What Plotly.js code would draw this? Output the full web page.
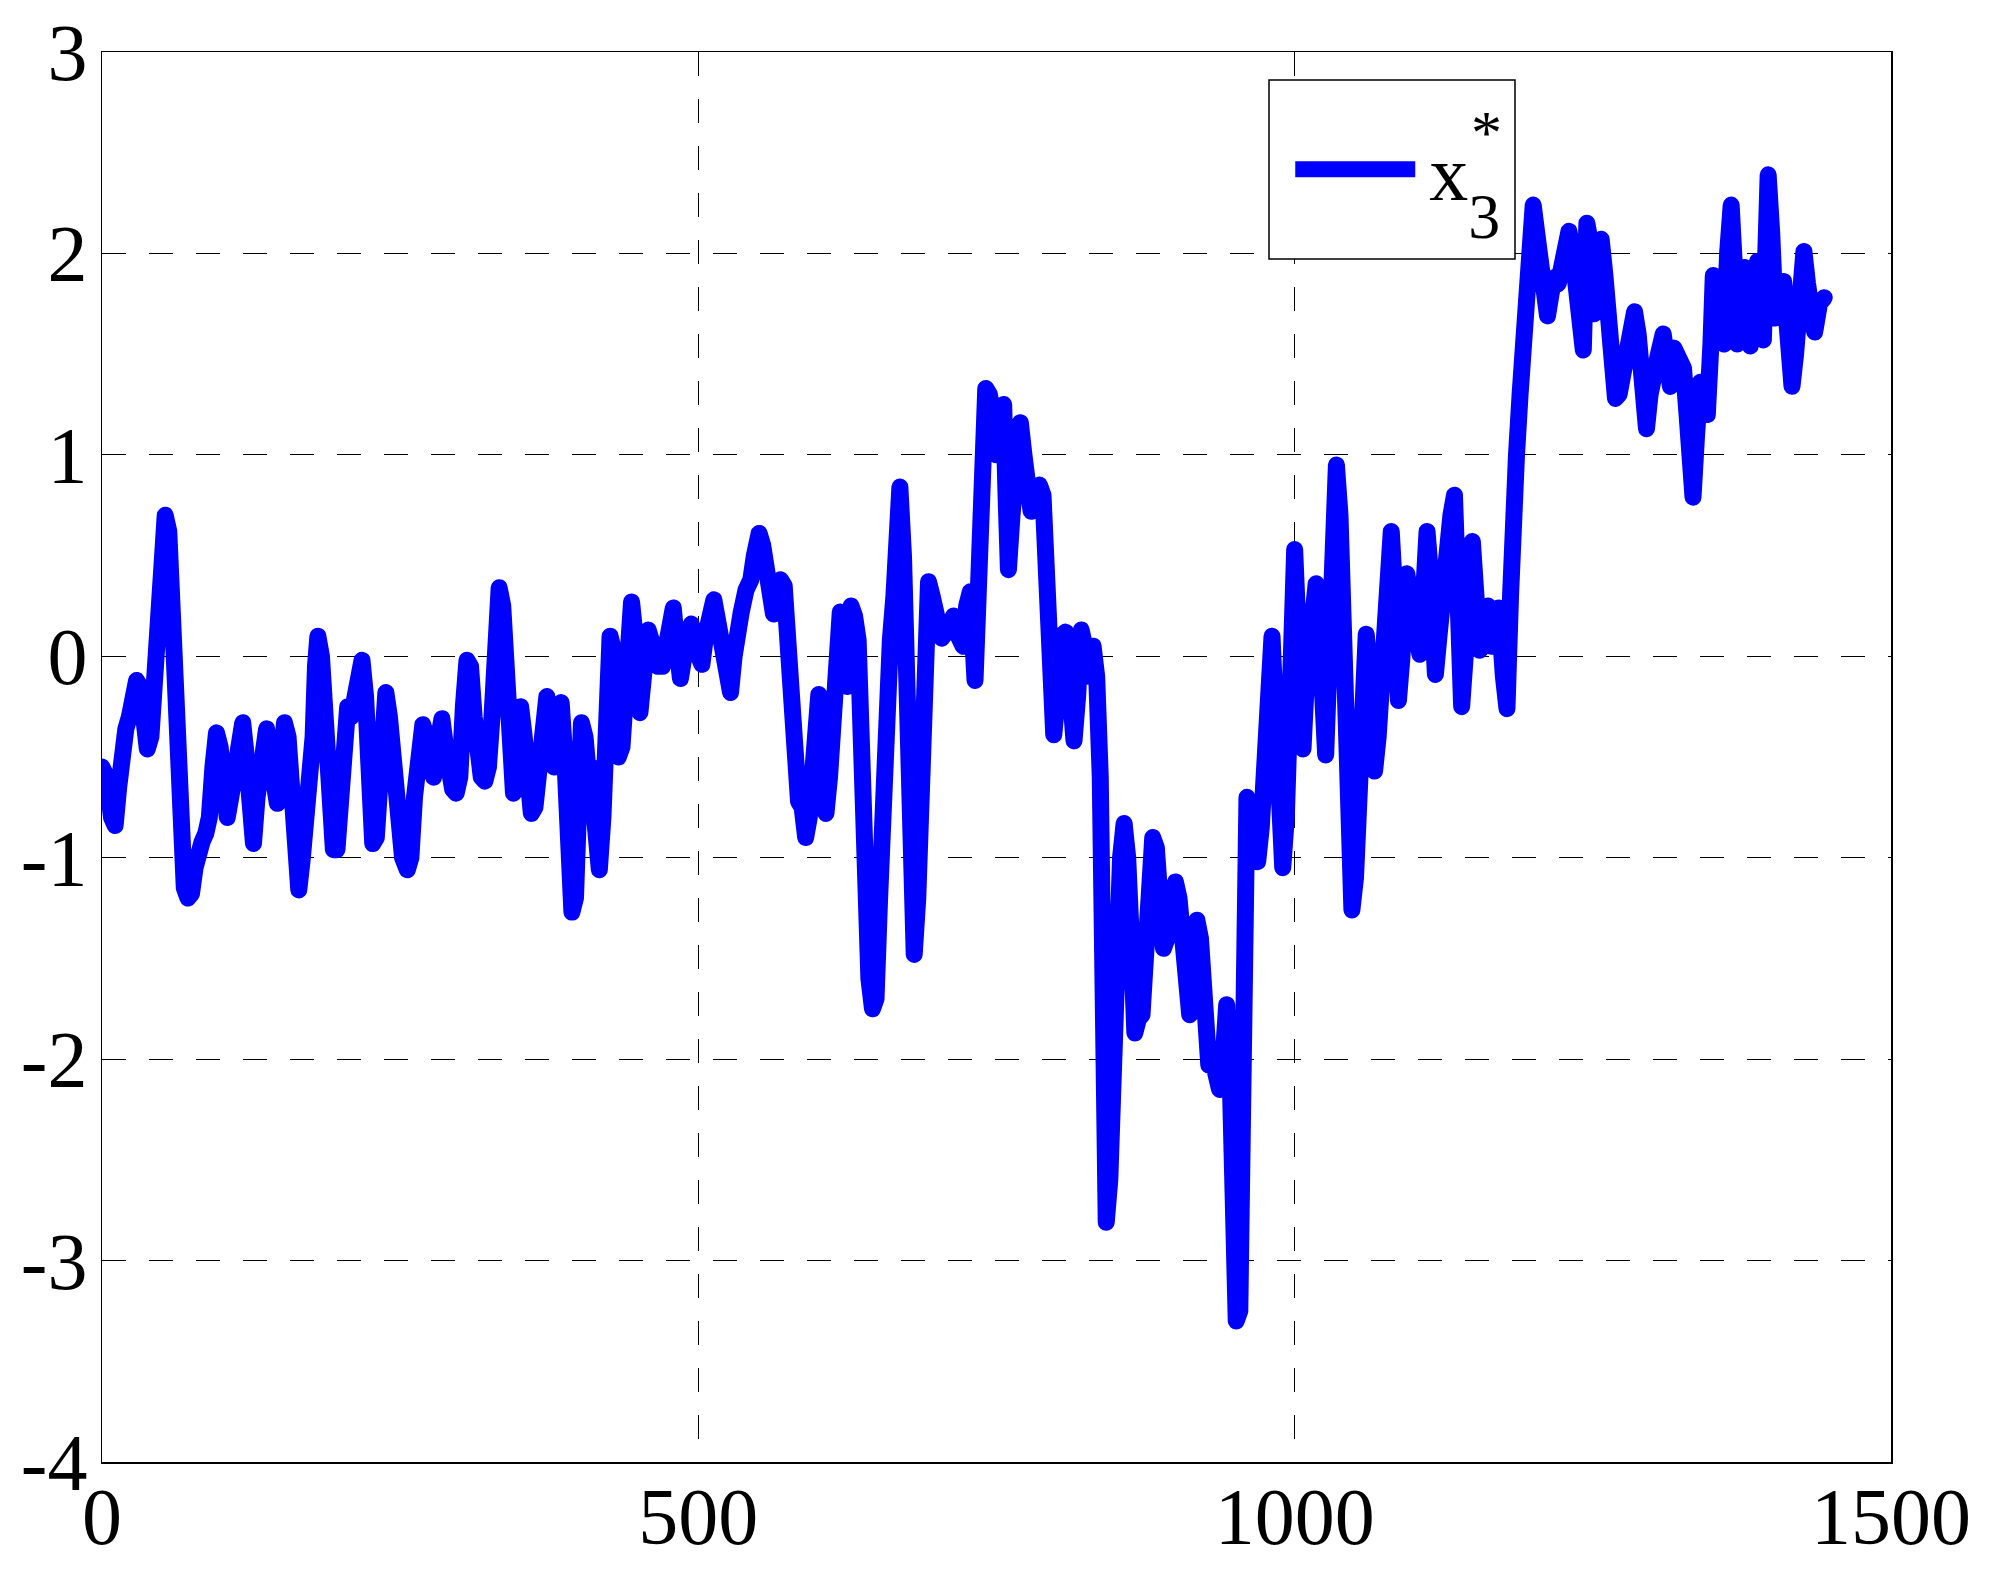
<!DOCTYPE html>
<html>
<head>
<meta charset="utf-8">
<script src="https://cdn.plot.ly/plotly-3.0.1.min.js"></script>
<style>
  html, body { margin: 0; padding: 0; background: #ffffff; }
  #chart { width: 1999px; height: 1576px; }
  #chart .scatterlayer path.js-line { stroke-linejoin: round !important; stroke-linecap: round !important; }
  #chart .legend path.js-line { stroke-width: 16px !important; stroke-linecap: butt !important; }
  #chart .legend .scrollbox { clip-path: none !important; }
  #chart .legend text.legendtext { transform: translate(9px, 0px); }
</style>
</head>
<body>
<div id="chart"></div>
<script>
// sample index (x) and value of x3* (y)
const sampleIndex = [
  0,4,8,11,14,17,20,23,26,29,32,35,38,41,44,47,50,53,56,58,60,62,64,66,69,72,75,78,81,84,87,90,93,96,99,
  102,105,108,111,114,118,121,124,127,130,134,138,141,144,147,150,153,156,159,162,165,168,171,174,177,179,181,184,187,190,194,197,
  200,203,206,209,212,215,218,221,224,227,230,233,236,238,241,244,248,252,256,259,262,265,269,272,275,278,281,285,288,291,294,297,
  300,303,306,309,312,315,318,321,324,327,330,333,336,339,342,345,348,351,354,357,360,363,366,370,373,376,379,382,385,388,391,394,397,
  400,402,405,408,410,413,417,420,423,426,428,430,433,436,440,444,447,451,454,458,462,466,470,474,479,482,485,488,491,494,497,
  500,503,506,510,513,517,521,524,527,530,533,536,540,544,547,551,554,557,560,563,566,569,572,575,578,581,584,587,590,593,596,599,
  601,604,607,610,613,616,619,622,625,628,631,634,637,640,643,646,649,652,655,658,661,664,667,669,672,675,678,681,684,687,690,693,696,
  700,704,708,711,714,718,722,725,728,732,735,738,741,744,747,750,753,756,758,760,763,767,770,773,776,779,783,786,789,792,795,798,
  801,804,808,811,815,818,821,824,828,831,834,837,839,842,845,848,851,854,857,860,863,866,869,872,875,878,881,884,887,890,893,896,
  900,903,906,909,912,915,918,921,924,928,931,934,937,940,943,946,948,951,954,957,960,963,966,969,972,975,978,981,984,987,990,993,996,998,
  1000,1003,1007,1010,1014,1018,1021,1024,1026,1029,1032,1035,1038,1041,1044,1048,1051,1054,1057,1060,1063,1067,1070,1073,1076,1079,1081,1084,1087,1090,1094,1097,
  1101,1105,1108,1111,1114,1118,1121,1125,1128,1131,1134,1137,1140,1143,1146,1149,1152,1155,1158,1162,1165,1168,1171,1175,1178,1181,1183,1186,1189,1191,1194,1197,
  1200,1203,1206,1209,1212,1215,1218,1221,1224,1227,1230,1233,1236,1239,1242,1245,1248,1251,1254,1257,1260,1263,1266,1269,1272,1275,1278,1282,1285,1288,1291,1295,1298,
  1301,1305,1309,1312,1315,1318,1322,1326,1329,1332,1334,1337,1340,1343,1346,1349,1351,1354,1357,1360,1363,1366,1369,1371,1374,1377,1380,1382,1385,1388,1391,1393,1395,1397,
  1400,1403,1406,1410,1413,1417,1420,1424,1427,1430,1433,1436,1440,1444
];
const x3Values = [
  -0.55,-0.60,-0.80,-0.84,-0.65,-0.40,-0.36,-0.30,-0.20,-0.12,-0.15,-0.30,-0.46,-0.40,-0.10,0.25,0.55,0.70,0.62,0.30,-0.05,-0.30,-0.60,-0.90,-1.15,-1.20,-1.18,-1.05,-0.95,-0.92,-0.88,-0.80,-0.55,-0.38,-0.45,
  -0.78,-0.80,-0.70,-0.60,-0.45,-0.33,-0.50,-0.80,-0.93,-0.70,-0.50,-0.36,-0.50,-0.70,-0.73,-0.55,-0.33,-0.40,-0.70,-1.00,-1.16,-1.00,-0.78,-0.70,-0.40,-0.05,0.10,0.00,-0.40,-0.80,-0.96,-0.96,
  -0.70,-0.40,-0.25,-0.30,-0.15,-0.05,-0.02,-0.20,-0.60,-0.93,-0.90,-0.60,-0.30,-0.18,-0.30,-0.55,-0.80,-1.00,-1.06,-1.00,-0.70,-0.45,-0.34,-0.40,-0.55,-0.60,-0.45,-0.31,-0.45,-0.62,-0.66,-0.68,
  -0.60,-0.25,-0.02,-0.05,-0.30,-0.50,-0.60,-0.62,-0.55,-0.30,0.05,0.34,0.25,-0.10,-0.50,-0.68,-0.45,-0.25,-0.40,-0.60,-0.78,-0.75,-0.55,-0.30,-0.20,-0.35,-0.55,-0.40,-0.23,-0.50,-1.00,-1.27,-1.20,
  -0.80,-0.33,-0.40,-0.60,-0.55,-0.80,-1.06,-0.80,-0.30,0.10,0.05,-0.30,-0.50,-0.45,-0.10,0.27,0.10,-0.28,-0.10,0.13,0.05,-0.05,-0.05,0.05,0.24,0.05,-0.11,0.00,0.10,0.16,0.05,
  -0.04,-0.04,0.10,0.26,0.28,0.15,0.00,-0.12,-0.18,0.00,0.20,0.22,0.33,0.38,0.50,0.61,0.55,0.40,0.30,0.21,0.30,0.38,0.35,0.10,-0.30,-0.60,-0.72,-0.75,-0.90,-0.80,-0.60,-0.30,
  -0.19,-0.40,-0.78,-0.60,-0.15,0.20,0.22,0.10,-0.15,0.25,0.20,0.08,-0.50,-1.35,-1.60,-1.75,-1.70,-1.20,-0.60,0.00,0.08,0.30,0.75,0.84,0.50,-0.30,-1.10,-1.48,-1.20,-0.50,0.10,0.37,0.30,
  0.15,0.09,0.12,0.20,0.20,0.10,0.05,0.25,0.32,-0.12,0.30,0.70,1.33,1.30,1.20,1.00,1.10,1.25,0.80,0.43,0.70,1.10,1.16,1.00,0.85,0.72,0.80,0.85,0.80,0.40,-0.10,-0.39,
  -0.20,0.10,0.12,-0.10,-0.42,-0.20,0.13,0.05,-0.10,0.05,-0.10,-0.60,-1.80,-2.81,-2.60,-1.90,-1.50,-1.00,-0.83,-1.00,-1.40,-1.87,-1.80,-1.78,-1.50,-1.10,-0.90,-0.95,-1.30,-1.45,-1.40,-1.25,
  -1.12,-1.20,-1.40,-1.60,-1.78,-1.60,-1.31,-1.40,-1.70,-2.03,-2.00,-2.05,-2.15,-2.00,-1.73,-2.10,-2.80,-3.30,-3.25,-2.20,-0.70,-0.80,-1.00,-1.02,-0.85,-0.50,-0.10,0.10,-0.30,-0.90,-1.05,-0.80,-0.20,0.30,
  0.53,0.10,-0.46,-0.10,0.20,0.36,0.10,-0.40,-0.49,0.00,0.70,0.95,0.70,0.00,-0.80,-1.26,-1.10,-0.50,-0.20,0.11,-0.10,-0.57,-0.40,0.00,0.30,0.50,0.62,0.30,-0.22,0.00,0.41,0.30,
  0.10,0.01,0.30,0.62,0.40,-0.09,0.10,0.40,0.60,0.70,0.80,0.30,-0.25,0.00,0.40,0.57,0.30,0.03,0.05,0.25,0.05,0.20,0.24,-0.10,-0.26,0.30,0.97,1.00,1.30,1.46,1.60,2.00,
  2.24,2.10,1.90,1.75,1.69,1.80,1.88,1.85,1.95,2.05,2.11,2.00,1.85,1.65,1.52,2.15,2.05,1.70,1.90,2.07,1.90,1.60,1.40,1.28,1.30,1.40,1.45,1.60,1.71,1.60,1.30,1.13,1.30,
  1.45,1.50,1.60,1.45,1.34,1.53,1.45,1.43,1.20,0.90,0.79,1.10,1.36,1.25,1.20,1.55,1.89,1.80,1.65,1.55,2.00,2.24,1.90,1.55,1.80,1.93,1.70,1.54,1.80,1.96,1.70,1.57,2.00,2.39,
  2.10,1.68,1.75,1.86,1.60,1.34,1.50,1.90,2.01,1.85,1.65,1.61,1.75,1.78
];
const seriesName = 'x<span style="font-size:64px;baseline-shift:-38px">3</span>';
const xTicks = [0, 500, 1000, 1500];
const yTicks = [-4, -3, -2, -1, 0, 1, 2, 3];

const serif = 'Liberation Serif, Times New Roman, serif';

const trace = {
  x: sampleIndex,
  y: x3Values,
  type: 'scatter',
  mode: 'lines',
  name: seriesName,
  line: { color: '#0000ff', width: 17, shape: 'linear' }
};

const axisCommon = {
  showline: true,
  linecolor: '#000000',
  linewidth: 1.5,
  mirror: true,
  showgrid: true,
  gridcolor: '#000000',
  gridwidth: 1,
  griddash: '24px,23px',
  zeroline: false,
  ticks: '',
  tickfont: { family: serif, size: 80, color: '#000000' },
  tickmode: 'array'
};

const layout = {
  width: 1999,
  height: 1576,
  paper_bgcolor: '#ffffff',
  plot_bgcolor: '#ffffff',
  margin: { l: 102, r: 108, t: 52, b: 114, pad: 0 },
  showlegend: true,
  xaxis: Object.assign({}, axisCommon, {
    range: [0, 1500],
    tickvals: xTicks,
    ticktext: xTicks.map(String),
    ticklabelstandoff: -16
  }),
  yaxis: Object.assign({}, axisCommon, {
    range: [-4, 3],
    tickvals: yTicks,
    ticktext: yTicks.map(String),
    ticklabelstandoff: -3
  }),
  legend: {
    x: 0.6642, y: 0.9167,
    xanchor: 'left', yanchor: 'middle',
    bgcolor: 'rgba(0,0,0,0)',
    borderwidth: 0,
    itemsizing: 'trace',
    itemwidth: 120,
    font: { family: serif, size: 78, color: '#000000' }
  },
  shapes: [
    {
      type: 'rect', xref: 'paper', yref: 'paper',
      x0: (1269 - 102) / 1789, x1: (1515 - 102) / 1789,
      y0: (1462 - 259) / 1410, y1: (1462 - 80) / 1410,
      line: { color: '#000000', width: 1.5 },
      fillcolor: '#ffffff',
      layer: 'above'
    }
  ],
  annotations: [
    {
      xref: 'paper', yref: 'paper',
      x: (1486 - 102) / 1789, y: (1462 - 132) / 1410,
      xanchor: 'center', yanchor: 'middle',
      text: '*', showarrow: false,
      font: { family: serif, size: 62, color: '#000000' }
    }
  ]
};

Plotly.newPlot('chart', [trace], layout, { staticPlot: true, displayModeBar: false });
</script>
</body>
</html>
